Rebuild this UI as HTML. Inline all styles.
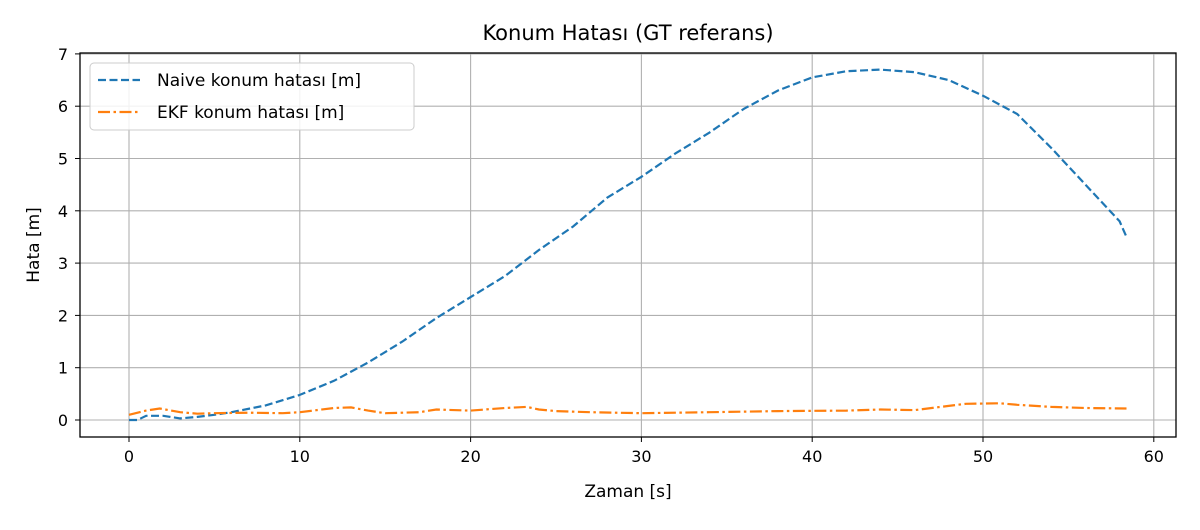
<!DOCTYPE html>
<html><head><meta charset="utf-8"><style>
body{margin:0;background:#fff;font-family:"Liberation Sans","DejaVu Sans",sans-serif}
svg text{font-family:"DejaVu Sans","Liberation Sans",sans-serif}
</style></head><body>
<svg id="c" width="1200" height="525" xmlns="http://www.w3.org/2000/svg">
<rect width="1200" height="525" fill="#fff"/>
<text x="628" y="40" text-anchor="middle" font-size="21">Konum Hatası (GT referans)</text>
<g id="grid"></g><g id="ticks"></g><g id="series"></g>
<rect x="80" y="53" width="1096" height="384" fill="none" stroke="#000" stroke-width="1.3"/>
<text x="628" y="497" text-anchor="middle" font-size="17">Zaman [s]</text>
<text transform="translate(39,245) rotate(-90)" text-anchor="middle" font-size="17">Hata [m]</text>
<g>
<rect x="90" y="63" width="324" height="67" rx="4" fill="#fff" fill-opacity="0.85" stroke="#ccc"/>
<g><line x1="98" y1="80" x2="140" y2="80" stroke="#1f77b4" stroke-width="2.2" stroke-dasharray="8,3.5"/><text x="157" y="86" font-size="17">Naive konum hatası [m]</text></g>
<g><line x1="98" y1="112" x2="140" y2="112" stroke="#ff7f0e" stroke-width="2.2" stroke-dasharray="12,3.5,2.5,3.5"/><text x="157" y="118" font-size="17">EKF konum hatası [m]</text></g>
</g>
</svg>
<script>
const xTicks=[0,10,20,30,40,50,60];
const yTicks=[0,1,2,3,4,5,6,7];
const naiveT=[0,0.5,1,2,3,4,5,6,8,10,12,14,16,18,20,22,24,26,28,30,32,34,36,38,40,42,44,46,48,50,52,54,56,58,58.4];
const naiveV=[0,0.0,0.08,0.08,0.03,0.06,0.1,0.15,0.28,0.48,0.75,1.1,1.5,1.95,2.35,2.75,3.25,3.7,4.25,4.65,5.1,5.5,5.95,6.3,6.55,6.67,6.7,6.65,6.5,6.2,5.85,5.2,4.5,3.8,3.5];
const ekfT=[0,1,1.8,3,4,5,7,9,10,12,13,14,15,17,18,20,22,23.3,24,25,27,30,34,38,42,44,46,48,49,51,52,54,56,58.4];
const ekfV=[0.1,0.18,0.22,0.15,0.12,0.13,0.14,0.13,0.15,0.23,0.24,0.18,0.13,0.15,0.2,0.18,0.23,0.25,0.2,0.17,0.15,0.13,0.15,0.17,0.18,0.2,0.19,0.27,0.31,0.32,0.29,0.25,0.23,0.22];
const X=v=>129+v*17.08, Y=v=>420-v*52.3;
const NS="http://www.w3.org/2000/svg";
const mk=(p,t,a)=>{const e=document.createElementNS(NS,t);for(const k in a)e.setAttribute(k,a[k]);document.getElementById(p).appendChild(e);return e;};
xTicks.forEach(t=>{
 const g=mk('grid','line',{x1:X(t),x2:X(t),y1:53,y2:437,stroke:'#b0b0b0','stroke-width':1.1});
 
 
 mk('ticks','line',{x1:X(t),x2:X(t),y1:437,y2:442,stroke:'#000'});
 const l=mk('ticks','text',{x:X(t),y:462,'text-anchor':'middle','font-size':16});l.textContent=t;
 
 
});
yTicks.forEach(t=>{
 const g=mk('grid','line',{x1:80,x2:1176,y1:Y(t),y2:Y(t),stroke:'#b0b0b0','stroke-width':1.1});
 
 
 mk('ticks','line',{x1:75,x2:80,y1:Y(t),y2:Y(t),stroke:'#000'});
 const l=mk('ticks','text',{x:68,y:Y(t)+6,'text-anchor':'end','font-size':16});l.textContent=t;
 
 
});
const pts=(T,V)=>T.map((t,i)=>X(t).toFixed(1)+','+Y(V[i]).toFixed(1)).join(' ');
const n=mk('series','polyline',{points:pts(naiveT,naiveV),fill:'none',stroke:'#1f77b4','stroke-width':2.2,'stroke-dasharray':'8,3.5'});


const e=mk('series','polyline',{points:pts(ekfT,ekfV),fill:'none',stroke:'#ff7f0e','stroke-width':2.2,'stroke-dasharray':'12,3.5,2.5,3.5'});


</script>
</body></html>
